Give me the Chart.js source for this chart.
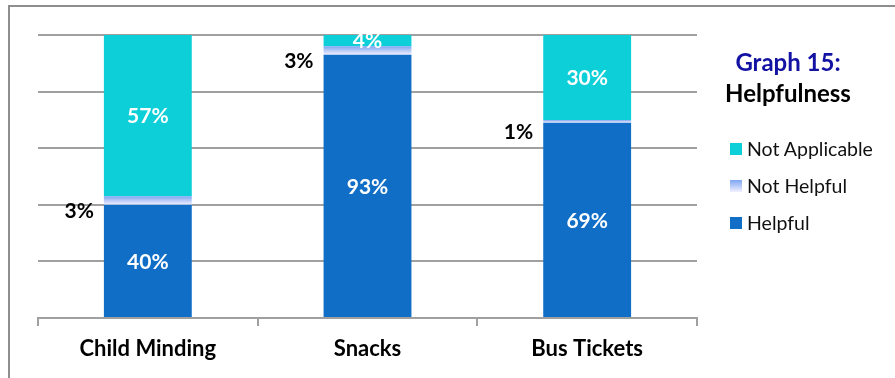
<!DOCTYPE html>
<html>
<head>
<meta charset="utf-8">
<script src="https://cdn.jsdelivr.net/npm/chart.js@4"></script>
<style>
  body { margin: 0; background: #fff; font-family: Lato, sans-serif; }
  .wrap { position: relative; width: 895px; height: 378px; overflow: hidden; }
  .frame { position: absolute; left: 8px; top: 5px; right: -10px; bottom: -10px;
           border-top: 2px solid #8e8e8e; border-left: 2px solid #8e8e8e; }
  canvas { position: absolute; left: 0; top: 0; }
  .ttl { position: absolute; left: 690px; width: 196px; text-align: center; font-weight: bold; line-height: 1; }
  .t1 { top: 50px; color: #1212a3; font-size: 24px; }
  .t2 { top: 81px; color: #000; font-size: 24px; }
  .legend { position: absolute; left: 730px; top: 130px; }
  .item { height: 37px; display: flex; align-items: center; font-size: 19.5px; color: #111; }
  .sw { width: 12px; height: 12px; margin-right: 5px; }
</style>
</head>
<body>
<div class="wrap">
  <div class="frame"></div>
  <canvas id="myChart" width="895" height="378"></canvas>
  <div class="ttl t1">Graph 15:</div>
  <div class="ttl t2">Helpfulness</div>
  <div class="legend" id="legend"></div>
</div>
<script>
const categories = ['Child Minding', 'Snacks', 'Bus Tickets']
const helpful = [40, 93, 69]
const notHelpful = [3, 3, 1]
const notApplicable = [57, 4, 30]

const blue = '#106ec6'
const cyan = '#0ccfd8'

const fadeFill = (ctx) => {
    const el = ctx.element
    if (!el || !isFinite(el.y) || !isFinite(el.base)) return '#9fbcf2'
    const g = ctx.chart.ctx.createLinearGradient(0, Math.min(el.y, el.base), 0, Math.max(el.y, el.base))
    g.addColorStop(0, '#7ea6f2')
    g.addColorStop(1, '#f2f0ff')
    return g
}

const labelPlugin = {
    id: 'segLabels',
    afterDatasetsDraw(chart) {
        const c = chart.ctx
        c.save()
        c.font = 'bold 21px Lato'
        c.textBaseline = 'middle'
        chart.data.datasets.forEach((ds, di) => {
            chart.getDatasetMeta(di).data.forEach((bar, i) => {
                const v = ds.data[i]
                const mid = (bar.y + bar.base) / 2
                if (v >= 4) {
                    c.fillStyle = '#fff'
                    c.textAlign = 'center'
                    c.fillText(v + '%', bar.x, mid + 1)
                } else {
                    c.fillStyle = '#000'
                    c.textAlign = 'right'
                    c.fillText(v + '%', bar.x - bar.width / 2 - 10, mid + 11)
                }
            })
        })
        c.restore()
    }
}

const ctx = document.getElementById('myChart').getContext('2d')
const chart = new Chart(ctx, {
    type: 'bar',
    data: {
        labels: categories,
        datasets: [
            { label: 'Helpful', data: helpful, backgroundColor: blue },
            { label: 'Not Helpful', data: notHelpful, backgroundColor: fadeFill },
            { label: 'Not Applicable', data: notApplicable, backgroundColor: cyan }
        ]
    },
    options: {
        responsive: false,
        animation: false,
        layout: { padding: { left: 38, right: 198, top: 35, bottom: 0 } },
        datasets: { bar: { barPercentage: 0.4, categoryPercentage: 1 } },
        plugins: { legend: { display: false }, tooltip: { enabled: false } },
        scales: {
            x: {
                stacked: true,
                afterFit: s => { s.height = 60 },
                border: { color: '#a0a0a0', width: 2 },
                grid: { drawOnChartArea: false, drawTicks: true, tickLength: 8, color: '#a0a0a0', lineWidth: 2 },
                ticks: { color: '#000', padding: 10, font: { family: 'Lato', size: 22, weight: 'bold' } }
            },
            y: {
                stacked: true,
                min: 0,
                max: 100,
                afterFit: s => { s.width = 0 },
                border: { display: false },
                grid: { drawTicks: false, color: '#a0a0a0', lineWidth: 2 },
                ticks: { display: false, stepSize: 20 }
            }
        }
    },
    plugins: [labelPlugin]
})
chart.update('none')

const legend = document.getElementById('legend')
const swatches = [
    ['Not Applicable', cyan],
    ['Not Helpful', 'linear-gradient(#7ea6f2, #f2f0ff)'],
    ['Helpful', blue]
]
swatches.forEach(([name, bg]) => {
    const item = document.createElement('div')
    item.className = 'item'
    const sw = document.createElement('span')
    sw.className = 'sw'
    sw.style.background = bg
    item.appendChild(sw)
    item.appendChild(document.createTextNode(name))
    legend.appendChild(item)
})
</script>
</body>
</html>
